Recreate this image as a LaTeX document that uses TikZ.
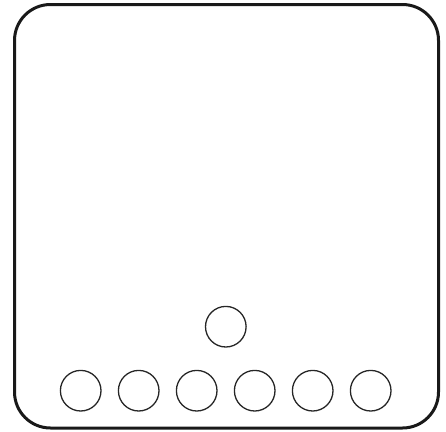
\documentclass[tikz,border=0pt]{standalone}
\begin{document}
\begin{tikzpicture}[x=1pt,y=-1pt]
  \tikzset{pad/.style={draw=black!85, line width=1.3pt, circle, minimum size=40.6pt, inner sep=0pt}}
  \useasboundingbox (0,0) rectangle (446,431);

  % outer frame
  \draw[line width=3pt, rounded corners=36pt, draw=black!90] (14.5,4.5) rectangle (438.5,428);

  % bottom row
  \foreach \i in {0,...,5} {
      \node[pad] (b\i) at (80.7+58*\i, 390.7) {};
    }
  \node[pad] (top) at (225.8, 326.7) {};
\end{tikzpicture}
\end{document}
